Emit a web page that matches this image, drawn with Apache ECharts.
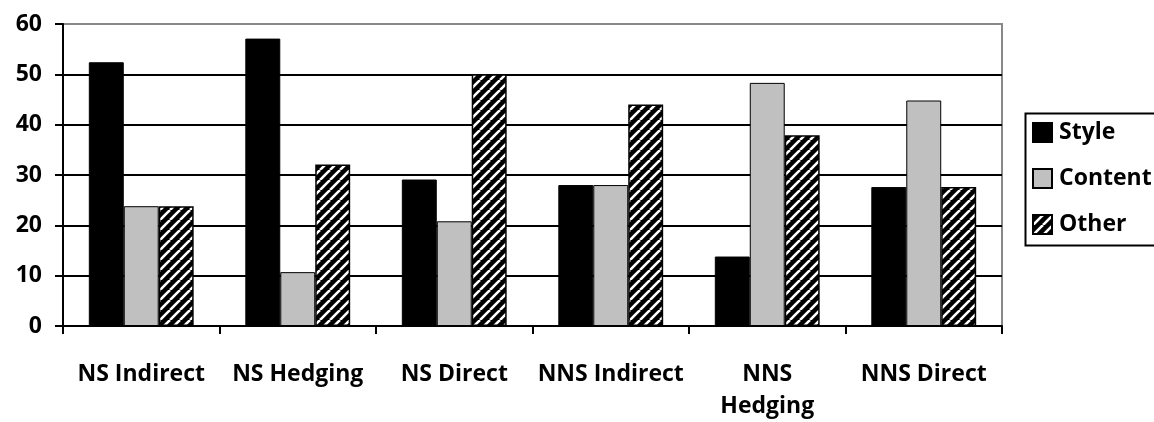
<!DOCTYPE html>
<html><head><meta charset="utf-8">
<script src="https://cdn.jsdelivr.net/npm/echarts@6/dist/echarts.min.js"></script>
<style>html,body{margin:0;padding:0;background:#fff}#c{width:1154px;height:422px}</style>
</head><body><div id="c"></div>
<script>
const categories = ['NS Indirect', 'NS Hedging', 'NS Direct', 'NNS Indirect', 'NNS Hedging', 'NNS Direct'];
const styleValues = [52.4, 57.1, 29.1, 28.0, 13.8, 27.6];
const contentValues = [23.8, 10.7, 20.8, 28.0, 48.3, 44.8];
const otherValues = [23.8, 32.1, 50.0, 44.0, 37.9, 27.6];
const yTicks = [0, 10, 20, 30, 40, 50, 60];

function hatch() {
  const s = 10;
  const c = document.createElement('canvas');
  c.width = s; c.height = s;
  const g = c.getContext('2d');
  g.fillStyle = '#000'; g.fillRect(0, 0, s, s);
  g.strokeStyle = '#fff'; g.lineWidth = 2.6;
  for (const o of [-s, 0, s]) {
    g.beginPath(); g.moveTo(o, s); g.lineTo(o + s, 0); g.stroke();
  }
  return c;
}
const FONT = '"Open Sans"';
const chart = echarts.init(document.getElementById('c'), null, {renderer: 'canvas'});
const lab = {fontFamily: FONT, fontWeight: 'bold', fontSize: 23, color: '#000'};
chart.setOption({
  animation: false,
  grid: {left: 63, right: 152, top: 24, bottom: 93, show: true, borderColor: '#888', borderWidth: 2, backgroundColor: '#fff'},
  graphic: [{type: 'rect', left: 1023, top: 111, shape: {width: 200, height: 132},
    style: {fill: 'none', stroke: '#000', lineWidth: 2}, z: 1}],
  legend: {
    left: 1032, top: 121, orient: 'vertical', itemGap: 23, itemWidth: 19, itemHeight: 19, icon: 'rect',
    padding: 0,
    textStyle: Object.assign({}, lab, {padding: [0, 0, 0, 2]}),
    data: ['Style', 'Content', 'Other']
  },
  xAxis: {
    type: 'category', data: categories,
    axisLine: {lineStyle: {color: '#000', width: 2}},
    axisTick: {show: true, length: 8, lineStyle: {color: '#000', width: 2}},
    axisLabel: Object.assign({}, lab, {margin: 32, lineHeight: 32, interval: 0,
      formatter: v => v === 'NNS Hedging' ? 'NNS\nHedging' : v})
  },
  yAxis: {
    type: 'value', min: yTicks[0], max: yTicks[yTicks.length - 1], interval: 10,
    axisLine: {show: true, lineStyle: {color: '#000', width: 2}},
    axisTick: {show: true, length: 8, lineStyle: {color: '#000', width: 2}},
    axisLabel: Object.assign({}, lab, {margin: 21}),
    splitLine: {show: true, lineStyle: {color: ['#000', '#000', '#000', '#000', '#000', '#000', '#888'], width: 2}}
  },
  series: [
    {name: 'Style', type: 'bar', data: styleValues, barGap: '0%', barCategoryGap: '33%',
      itemStyle: {color: '#000', borderColor: '#000', borderWidth: 1}},
    {name: 'Content', type: 'bar', data: contentValues,
      itemStyle: {color: '#c0c0c0', borderColor: '#000', borderWidth: 1}},
    {name: 'Other', type: 'bar', data: otherValues,
      itemStyle: {color: {image: hatch(), repeat: 'repeat'}, borderColor: '#000', borderWidth: 1.5}}
  ]
});
</script></body></html>
